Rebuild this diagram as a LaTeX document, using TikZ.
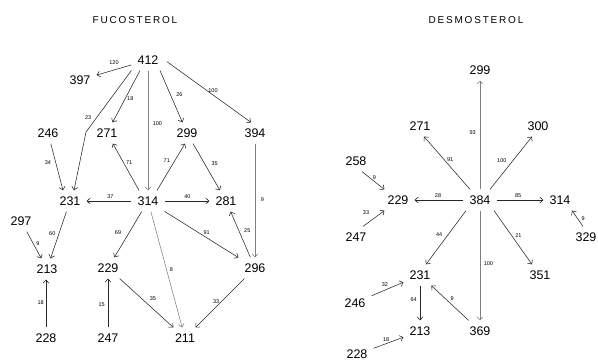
\documentclass[tikz,border=0pt]{standalone}
\usepackage{fontspec}
\setmainfont{Liberation Sans}
\usetikzlibrary{arrows.meta}
\begin{document}
\begin{tikzpicture}[x=1pt,y=-1pt,
  num/.style={inner sep=6pt, font=\fontsize{12.5}{14}\selectfont},
  lbl/.style={inner sep=1pt, font=\fontsize{5.5}{6}\selectfont},
  ttl/.style={inner sep=0pt, font=\fontsize{10}{12}\selectfont\addfontfeatures{LetterSpace=18}},
  conn/.style={draw=black!85, line width=0.55pt, -{Straight Barb[length=3.2pt,width=6pt]}},
  faint/.style={conn, draw=black!50},
]
\useasboundingbox (0,0) rectangle (598,361);

% ---------------- titles ----------------
\node[ttl] (tfuco) at (135,20) {FUCOSTEROL};
\node[ttl] (tdesmo) at (476,20) {DESMOSTEROL};

% ---------------- fucosterol fragments ----------------
\node[num] (f412) at (148,60) {412};
\node[num] (f397) at (80,80) {397};
\node[num] (f246) at (48,133) {246};
\node[num] (f271) at (107,133) {271};
\node[num] (f299) at (187,133) {299};
\node[num] (f394) at (255,133) {394};
\node[num] (f231) at (70,201) {231};
\node[num] (f314) at (148,201) {314};
\node[num] (f281) at (226,201) {281};
\node[num] (f297) at (21,221) {297};
\node[num] (f213) at (47,269) {213};
\node[num] (f229) at (108,268) {229};
\node[num] (f296) at (255,268) {296};
\node[num] (f228) at (46,338) {228};
\node[num] (f247) at (108,338) {247};
\node[num] (f211) at (185,338) {211};
\coordinate (fbend) at (86,132);

\draw[conn] (f412) -- node[lbl,pos=.5,above=4pt] {120} (f397);
\draw[conn] (f412.south west) -- node[lbl,pos=.77,left=4pt] {23} (fbend) -- ([xshift=4pt]f231.north);
\draw[conn] ([xshift=-8pt]f412.south) -- node[lbl,pos=.55,right=1pt] {18} (f271);
\draw[faint] (f412.south) -- node[lbl,pos=.44,right=3.5pt] {100} (f412.south |- f314.north);
\draw[conn] ([xshift=12pt]f412.south) -- node[lbl,pos=.47,right=4.5pt] {26} (f299);
\draw[conn,shorten <=3pt] (f412.east) -- node[lbl,pos=.56,above=1.5pt] {100} ([xshift=-4pt]f394.north);
\draw[conn] (f246) -- node[lbl,pos=.41,left=3.5pt] {34} ([xshift=-7pt]f231.north);
\draw[conn] ([xshift=-9pt]f314.north) -- node[lbl,pos=.6,right=1.5pt] {71} (f271);
\draw[conn] ([xshift=9pt]f314.north) -- node[lbl,pos=.63,left=3.5pt] {71} ([xshift=-2pt]f299.south);
\draw[conn] (f299) -- node[lbl,pos=.42,right=6pt] {35} (f281);
\draw[faint] (f394) -- node[lbl,pos=.49,right=4.5pt] {9} (f296);
\draw[conn] (f314) -- node[lbl,pos=.47,above=1pt] {37} (f231);
\draw[conn] (f314) -- node[lbl,pos=.51,above=1pt] {40} (f281);
\draw[conn] (f297) -- node[lbl,pos=.43,right=2pt] {9} (f213);
\draw[conn] (f231) -- node[lbl,pos=.46,left=2.5pt] {60} (f213);
\draw[conn] (f314) -- node[lbl,pos=.45,left=7pt] {69} (f229);
\draw[faint] (f314) -- node[lbl,pos=.5,right=2pt] {8} (f211);
\draw[conn] (f314) -- node[lbl,pos=.57,above=2pt] {91} (f296);
\draw[conn] (f296) -- node[lbl,pos=.58,right=4pt] {25} (f281);
\draw[conn] (f228) -- node[lbl,pos=.51,left=1pt] {18} (f228 |- f213.south);
\draw[conn] (f247) -- node[lbl,pos=.46,left=2pt] {15} (f247 |- f229.south);
\draw[conn] (f229) -- node[lbl,pos=.51,above right=1.5pt] {35} (f211);
\draw[conn] (f296) -- node[lbl,pos=.47,left=1pt] {33} (f211);

% ---------------- desmosterol fragments ----------------
\node[num] (d299) at (480,70) {299};
\node[num] (d271) at (420,126) {271};
\node[num] (d300) at (538,126) {300};
\node[num] (d258) at (356,161) {258};
\node[num] (d229) at (398,200) {229};
\node[num] (d384) at (480,200) {384};
\node[num] (d314) at (560,200) {314};
\node[num] (d247) at (356,237) {247};
\node[num] (d329) at (586,237) {329};
\node[num] (d231) at (420,275) {231};
\node[num] (d351) at (540,275) {351};
\node[num] (d246) at (355,303) {246};
\node[num] (d213) at (420,331) {213};
\node[num] (d369) at (480,331) {369};
\node[num] (d228) at (357,354.5) {228};

\draw[faint] (d384) -- node[lbl,pos=.52,left=3pt] {93} (d299);
\draw[conn] ([xshift=-10pt]d384.north) -- node[lbl,pos=.56,right=1.5pt] {91} ([xshift=4pt]d271.south);
\draw[conn] ([xshift=10pt]d384.north) -- node[lbl,pos=.54,left=5pt] {100} ([xshift=-6pt]d300.south);
\draw[conn] ([xshift=6pt]d258.south) -- node[lbl,pos=.55,above=1pt] {9} ([xshift=3pt]d229.north west);
\draw[conn] ([xshift=7pt]d247.north) -- node[lbl,pos=.39,anchor=south east,xshift=-1pt,yshift=4pt] {33} ([xshift=3pt]d229.south west);
\draw[conn] (d384) -- node[lbl,pos=.52,above=1pt] {28} (d229);
\draw[conn] (d384) -- node[lbl,pos=.46,above=1pt] {85} (d314);
\draw[conn] ([xshift=-3pt]d329.north) -- node[lbl,pos=.47,right=2.5pt] {9} ([xshift=12pt]d314.south);
\draw[conn] ([xshift=-14pt]d384.south) -- node[lbl,pos=.45,left=4.5pt] {44} ([xshift=6pt]d231.north);
\draw[conn] ([xshift=14pt]d384.south) -- node[lbl,pos=.46,right=2.5pt] {21} ([xshift=-8pt]d351.north);
\draw[faint] (d384) -- node[lbl,pos=.48,right=2.5pt] {100} (d369);
\draw[conn] (d246) -- node[lbl,pos=.42,above=2pt] {32} (d231);
\draw[conn] (d231) -- node[lbl,pos=.41,left=2pt] {64} (d213);
\draw[conn] (d369) -- node[lbl,pos=.64,right=4.5pt] {9} (d231);
\draw[conn] (d228) -- node[lbl,pos=.42,above=0.5pt] {18} (d213);
\end{tikzpicture}
\end{document}
